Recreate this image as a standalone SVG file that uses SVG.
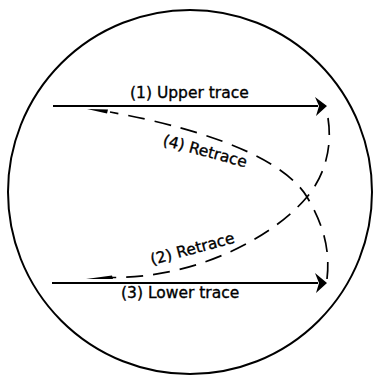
<svg xmlns="http://www.w3.org/2000/svg" width="380" height="382" viewBox="0 0 380 382">
<style>
.lbl{font-family:"DejaVu Sans",sans-serif;font-size:15.5px;fill:#000;stroke:#000;stroke-width:0.35}
.trace{stroke:#000;stroke-width:1.8;fill:none}
.retrace{stroke:#000;stroke-width:1.7;fill:none;stroke-dasharray:17 10}
.head{fill:#000;stroke:none}
</style>
<rect width="380" height="382" fill="#fff"/>
<g id="screen">
<circle cx="190" cy="192" r="182" fill="none" stroke="#000" stroke-width="2"/>
</g>
<g id="connectors">
<g id="upper-trace">
<line class="trace" x1="53" y1="106" x2="318" y2="106"/>
<polygon class="head" points="327,106 315,97 319,106 316,116"/>
</g>
<g id="lower-trace">
<line class="trace" x1="52" y1="283" x2="318" y2="283"/>
<polygon class="head" points="327,283 315,273 319,283 316,293"/>
</g>
<g id="retrace-2">
<path class="retrace" d="M328,118 C333,150 323,178 307,197 C275,235 200,278 112,277.5"/>
<polygon class="head" points="86,279 112,275.5 113,279"/>
</g>
<g id="retrace-4">
<path class="retrace" d="M327,279 C331,245 320,219 307,197 C285,160 210,130 110,112"/>
<polygon class="head" points="87,109 108,109.5 107,113.5"/>
</g>
</g>
<g id="labels">
<text class="lbl" x="130" y="98">(1) Upper trace</text>
<text class="lbl" x="121" y="298">(3) Lower trace</text>
<text class="lbl" transform="translate(162,145) rotate(15)">(4) Retrace</text>
<text class="lbl" transform="translate(152,265) rotate(-15)">(2) Retrace</text>
</g>
</svg>
